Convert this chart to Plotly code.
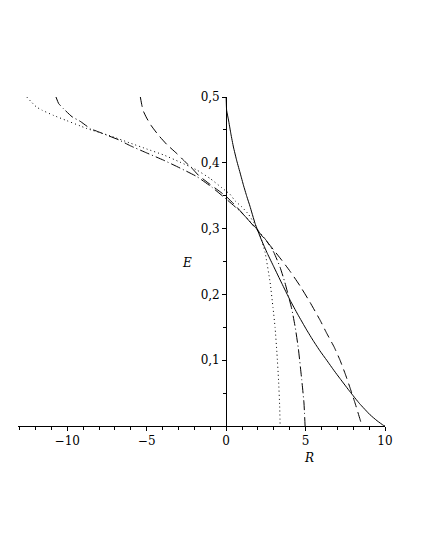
import plotly.graph_objects as go

# Solid curve
solid_R = [0, 0.03, 0.15, 0.3, 0.46, 0.67, 0.9, 1.09, 1.3, 1.5, 1.82, 2.2, 2.6, 3.0, 3.5, 4.03,
           4.5, 5.07, 5.5, 5.91, 6.33, 6.8, 7.17, 7.8, 8.4, 9.06, 9.5, 9.9, 10]
solid_E = [0.5, 0.48, 0.465, 0.444, 0.424, 0.403, 0.383, 0.366, 0.349, 0.334, 0.308, 0.284, 0.262,
           0.242, 0.217, 0.191, 0.17, 0.146, 0.129, 0.114, 0.1, 0.084, 0.072, 0.052, 0.034, 0.017,
           0.008, 0.001, 0]

# Dashed curve
dash_R = [-5.4, -5.3, -5.2, -5.0, -4.7, -4.26, -3.74, -3.1, -2.6, -2.16, -1.74, -1.0, -0.38, 0,
          0.5, 1.0, 1.8, 2.4, 2.98, 3.5, 4.03, 4.65, 5.28, 5.91, 6.33, 6.8, 7.17, 7.5, 7.8, 8.1,
          8.43, 8.55]
dash_E = [0.5, 0.487, 0.478, 0.468, 0.456, 0.442, 0.428, 0.414, 0.402, 0.392, 0.381, 0.367, 0.356,
          0.349, 0.337, 0.324, 0.302, 0.285, 0.268, 0.252, 0.235, 0.213, 0.188, 0.161, 0.141, 0.12,
          0.1, 0.079, 0.058, 0.036, 0.01, 0.0]

# Dotted curve
dot_R = [-12.55, -12.28, -11.95, -11.59, -10.86, -10.02, -9.18, -8.76, -7.3, -6.04, -5.0, -3.94,
         -2.9, -1.84, -1.0, -0.27, 0.25, 0.57, 0.99, 1.4, 1.72, 2.1, 2.45, 2.77, 2.95, 3.08, 3.2,
         3.3, 3.37, 3.4]
dot_E = [0.5, 0.493, 0.485, 0.48, 0.472, 0.464, 0.456, 0.452, 0.441, 0.43, 0.421, 0.412, 0.401,
         0.389, 0.376, 0.362, 0.352, 0.342, 0.333, 0.322, 0.31, 0.293, 0.264, 0.218, 0.18, 0.15,
         0.11, 0.07, 0.03, 0.0]

# Dash-dot curve
dd_R = [-10.71, -10.54, -10.23, -9.7, -9.18, -8.55, -8.03, -7.4, -6.77, -6.04, -5.0, -3.94, -2.9,
        -1.84, -0.9, 0, 0.9, 1.8, 2.56, 3.0, 3.4, 3.7, 3.92, 4.13, 4.35, 4.55, 4.76, 4.9, 4.97]
dd_E = [0.5, 0.49, 0.482, 0.47, 0.463, 0.452, 0.447, 0.441, 0.435, 0.426, 0.415, 0.404, 0.392,
        0.379, 0.363, 0.345, 0.326, 0.303, 0.281, 0.264, 0.241, 0.218, 0.198, 0.178, 0.15, 0.117,
        0.07, 0.035, 0.0]

x_tickvals = [-10, -5, 0, 5, 10]
x_ticktext = ["\u221210", "\u22125", "0", "5", "10"]
y_tickvals = [0.1, 0.2, 0.3, 0.4, 0.5]
y_ticktext = ["0,1", "0,2", "0,3", "0,4", "0,5"]

XMIN, XMAX = -13.1, 10.0
FONT = "DejaVu Serif"
FS = 12

fig = go.Figure()
styles = [
    (solid_R, solid_E, "solid"),
    (dash_R, dash_E, "10px,5px"),
    (dot_R, dot_E, "1px,3px"),
    (dd_R, dd_E, "10px,3px,1px,3px"),
]
for xs, ys, d in styles:
    fig.add_trace(go.Scatter(x=xs, y=ys, mode="lines",
                             line=dict(color="black", width=1, dash=d, shape="spline", smoothing=0.4),
                             showlegend=False, hoverinfo="skip"))

fig.update_layout(
    width=425, height=550,
    margin=dict(l=10, r=48, t=89, b=132),
    paper_bgcolor="white", plot_bgcolor="white",
    font=dict(family=FONT, size=FS, color="black"),
    xaxis=dict(range=[XMIN, XMAX], showgrid=False, zeroline=False,
               showline=True, linecolor="black", linewidth=1,
               tickmode="array", tickvals=x_tickvals, ticktext=x_ticktext,
               ticks="outside", ticklen=4, tickcolor="black", tickwidth=1,
               minor=dict(dtick=1, tick0=0, ticks="outside", ticklen=3, tickcolor="black"),
               tickfont=dict(family=FONT, size=FS, color="black")),
    yaxis=dict(range=[0, 0.5], showgrid=False, zeroline=False,
               anchor="free", position=(0 - XMIN) / (XMAX - XMIN),
               showline=True, linecolor="black", linewidth=1,
               tickmode="array", tickvals=y_tickvals, ticktext=y_ticktext,
               ticks="outside", ticklen=4, tickcolor="black", tickwidth=1,
               minor=dict(dtick=0.05, tick0=0, ticks="outside", ticklen=3, tickcolor="black"),
               tickfont=dict(family=FONT, size=FS, color="black")),
    annotations=[
        dict(x=-2.45, y=0.248, xref="x", yref="y", text="<i>E</i>", showarrow=False,
             font=dict(family=FONT, size=FS, color="black")),
        dict(x=5.2, y=0, xref="x", yref="y", yshift=-32, text="<i>R</i>", showarrow=False,
             font=dict(family=FONT, size=FS, color="black")),
    ],
)

fig.write_html("out.html")
